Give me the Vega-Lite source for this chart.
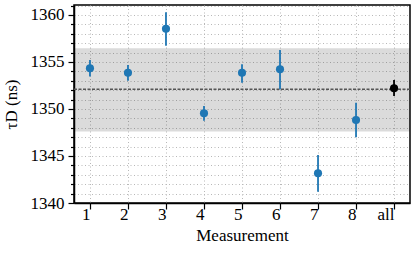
{
  "$schema": "https://vega.github.io/schema/vega-lite/v6.json",
  "width": 336,
  "height": 198,
  "autosize": "none",
  "padding": {"left": 74, "top": 5, "right": 5, "bottom": 54},
  "config": {
    "view": {"stroke": "black", "strokeWidth": 1.5},
    "font": "Liberation Serif",
    "axis": {
      "labelFont": "Liberation Serif",
      "titleFont": "Liberation Serif",
      "labelFontSize": 17,
      "titleFontSize": 17,
      "titleFontWeight": "normal",
      "labelColor": "black",
      "titleColor": "black",
      "domainColor": "black",
      "domainWidth": 1.5,
      "tickColor": "black",
      "tickWidth": 1.2,
      "gridColor": "#b8b8b8",
      "gridDash": [1, 2.5],
      "gridWidth": 1
    }
  },
  "datasets": {
    "pts": [
      {"m": "1", "v": 1354.33, "lo": 1353.45, "hi": 1355.2, "g": "meas"},
      {"m": "2", "v": 1353.86, "lo": 1353.01, "hi": 1354.68, "g": "meas"},
      {"m": "3", "v": 1358.54, "lo": 1356.73, "hi": 1360.29, "g": "meas"},
      {"m": "4", "v": 1349.54, "lo": 1348.76, "hi": 1350.32, "g": "meas"},
      {"m": "5", "v": 1353.86, "lo": 1352.8, "hi": 1354.75, "g": "meas"},
      {"m": "6", "v": 1354.22, "lo": 1352.1, "hi": 1356.28, "g": "meas"},
      {"m": "7", "v": 1343.16, "lo": 1341.2, "hi": 1345.1, "g": "meas"},
      {"m": "8", "v": 1348.83, "lo": 1346.99, "hi": 1350.67, "g": "meas"},
      {"m": "all", "v": 1352.2, "lo": 1351.38, "hi": 1353.09, "g": "all"}
    ],
    "band": [{"lo": 1347.6, "hi": 1356.45, "mean": 1352.1}]
  },
  "encoding": {
    "y": {
      "type": "quantitative",
      "scale": {"domain": [1340, 1361.06], "nice": false, "zero": false},
      "axis": {
        "title": "τD (ns)",
        "values": [1340, 1341, 1342, 1343, 1344, 1345, 1346, 1347, 1348, 1349, 1350, 1351, 1352, 1353, 1354, 1355, 1356, 1357, 1358, 1359, 1360, 1361],
        "labelExpr": "datum.value % 5 === 0 ? datum.label : ''",
        "format": "d",
        "labelOverlap": false,
        "tickSize": {"condition": {"test": "datum.value % 5 === 0", "value": 6}, "value": 3.5},
        "labelPadding": 4,
        "titlePadding": 10,
        "grid": true
      }
    }
  },
  "layer": [
    {
      "data": {"name": "band"},
      "mark": {"type": "rect", "color": "black", "opacity": 0.14},
      "encoding": {
        "y": {"field": "lo", "type": "quantitative"},
        "y2": {"field": "hi"}
      }
    },
    {
      "data": {"name": "band"},
      "mark": {"type": "rule", "color": "#555555", "strokeDash": [3, 1.5], "strokeWidth": 1.5},
      "encoding": {
        "y": {"field": "mean", "type": "quantitative"}
      }
    },
    {
      "data": {"name": "pts"},
      "mark": {"type": "rule", "strokeWidth": 1.8},
      "encoding": {
        "x": {"field": "m", "type": "nominal", "sort": ["1", "2", "3", "4", "5", "6", "7", "8", "all"]},
        "y": {"field": "lo", "type": "quantitative"},
        "y2": {"field": "hi"},
        "color": {"field": "g", "type": "nominal", "scale": {"domain": ["meas", "all"], "range": ["#1f77b4", "black"]}, "legend": null}
      }
    },
    {
      "data": {"name": "pts"},
      "mark": {"type": "circle", "size": 66, "opacity": 1},
      "encoding": {
        "x": {
          "field": "m", "type": "nominal",
          "sort": ["1", "2", "3", "4", "5", "6", "7", "8", "all"],
          "scale": {"type": "point", "padding": 0.42},
          "axis": {"title": "Measurement", "labelAngle": 0, "tickSize": 6, "labelPadding": 5, "titlePadding": 5, "grid": true}
        },
        "y": {"field": "v", "type": "quantitative"},
        "color": {"field": "g", "type": "nominal", "scale": {"domain": ["meas", "all"], "range": ["#1f77b4", "black"]}, "legend": null}
      }
    }
  ]
}
